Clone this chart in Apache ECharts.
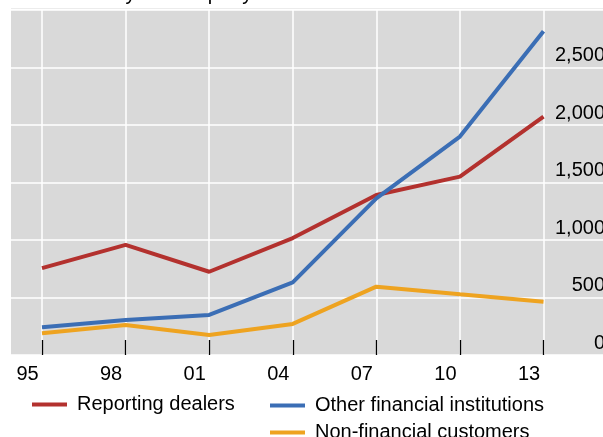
<!DOCTYPE html>
<html>
<head>
<meta charset="utf-8">
<script src="https://cdn.jsdelivr.net/npm/echarts@6/dist/echarts.min.js"></script>
<style>
  html, body { margin: 0; padding: 0; background: #fff; }
  #main { width: 603px; height: 437px; }
</style>
</head>
<body>
<div id="main"></div>
<script>
// x categories (years, two digits)
var years = ["95", "98", "01", "04", "07", "10", "13"];

// series values
var reportingDealers = [755, 957, 724, 1017, 1391, 1551, 2072];
var otherFinancial = [241, 304, 348, 632, 1362, 1899, 2815];
var nonFinancial = [189, 261, 174, 270, 594, 528, 464];

var yMin = 0;
var yMax = 3000;
var yStep = 500;

var font = "'Liberation Sans', Arial, sans-serif";

var chart = echarts.init(document.getElementById("main"));

function legendItem(name, left, top) {
  return {
    data: [name],
    left: left,
    top: top,
    padding: 0,
    icon: "rect",
    itemWidth: 35,
    itemHeight: 4,
    itemGap: 0,
    selectedMode: false,
    textStyle: { fontFamily: font, fontSize: 20, color: "#000", lineHeight: 27, padding: [0, 0, 0, 5] }
  };
}

var option = {
  animation: false,
  textStyle: { fontFamily: font },
  title: {
    text: "Amounts by counterparty",
    left: 25,
    top: -21,
    textStyle: { fontFamily: font, fontSize: 20, fontWeight: "normal", color: "#000" }
  },
  graphic: [
    {
      type: "line",
      shape: { x1: 11, y1: 8.5, x2: 603, y2: 8.5 },
      style: { stroke: "#ececec", lineWidth: 1 }
    }
  ],
  grid: [
    { left: 11, right: 0, top: 10, bottom: 82, show: true, backgroundColor: "#d9d9d9", borderWidth: 0, outerBoundsMode: "none" },
    { left: 42, right: 59.5, top: 10, bottom: 82, outerBoundsMode: "none" }
  ],
  xAxis: [
    { gridIndex: 0, type: "value", min: 0, max: 1, show: false },
    {
      gridIndex: 1,
      type: "category",
      boundaryGap: false,
      data: years,
      axisLine: { show: false },
      axisTick: { show: true, inside: true, length: 15, lineStyle: { color: "#000", width: 1.3 } },
      axisLabel: { fontFamily: font, fontSize: 20, color: "#000", margin: 9, padding: [0, 29, 0, 0] },
      splitLine: { show: true, lineStyle: { color: "#fff", width: 1.5 } }
    }
  ],
  yAxis: [
    {
      gridIndex: 0,
      type: "value",
      position: "right",
      min: yMin,
      max: yMax,
      interval: yStep,
      axisLine: { show: false },
      axisTick: { show: false },
      axisLabel: {
        inside: true,
        margin: -2,
        fontFamily: font,
        fontSize: 20,
        color: "#000",
        verticalAlign: "bottom",
        lineHeight: 20,
        padding: [0, 0, 2, 0],
        formatter: function (v) { return v === yMax ? "" : v.toLocaleString("en-US"); }
      },
      splitLine: { show: true, lineStyle: { color: "#fff", width: 1.5 } }
    },
    { gridIndex: 1, type: "value", min: yMin, max: yMax, interval: yStep, show: false }
  ],
  legend: [
    legendItem("Reporting dealers", 32, 391),
    legendItem("Other financial institutions", 270, 392),
    legendItem("Non-financial customers", 270, 419)
  ],
  series: [
    {
      name: "Reporting dealers",
      type: "line",
      xAxisIndex: 1,
      yAxisIndex: 1,
      data: reportingDealers,
      showSymbol: false,
      color: "#b3312e",
      lineStyle: { width: 4, color: "#b3312e" }
    },
    {
      name: "Other financial institutions",
      type: "line",
      xAxisIndex: 1,
      yAxisIndex: 1,
      data: otherFinancial,
      showSymbol: false,
      color: "#3b6eb5",
      lineStyle: { width: 4, color: "#3b6eb5" }
    },
    {
      name: "Non-financial customers",
      type: "line",
      xAxisIndex: 1,
      yAxisIndex: 1,
      data: nonFinancial,
      showSymbol: false,
      color: "#eea320",
      lineStyle: { width: 4, color: "#eea320" }
    }
  ]
};

chart.setOption(option);
</script>
</body>
</html>
